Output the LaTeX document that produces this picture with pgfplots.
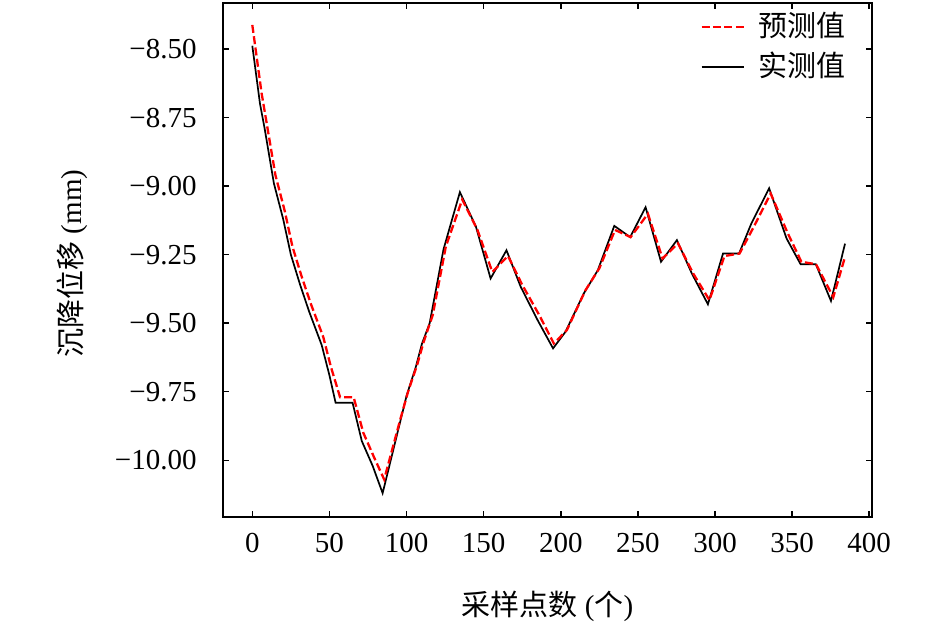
\documentclass[border=0pt]{standalone}
\usepackage{pgfplots}
\pgfplotsset{compat=1.18}
\usepackage{fontspec}
\setmainfont{Liberation Serif}
\newfontfamily\cjk{Noto Sans CJK SC}
\begin{document}
\fontsize{14.5}{17}\selectfont
\begin{tikzpicture}
\useasboundingbox (-111.5pt,-53.5pt) rectangle (361pt,258.5pt);
\begin{axis}[
  at={(0,0)}, anchor=south west,
  scale only axis,
  width=324.5pt, height=257pt,
  xmin=-19, xmax=401.8,
  ymin=-10.207, ymax=-8.332,
  xtick={0,50,...,400},
  ytick={-10,-9.75,-9.5,-9.25,-9,-8.75,-8.5},
  yticklabels={−10.00,−9.75,−9.50,−9.25,−9.00,−8.75,−8.50},
  /pgf/number format/assume math mode=true,
  tick align=inside,
  major tick length=3pt,
  tick style={black, line width=0.75pt},
  axis line style={black, line width=0.75pt},
  ticklabel style={font=\fontsize{14.5}{17}\selectfont},
  yticklabel style={inner sep=0pt, xshift=-13pt},
  xticklabel style={inner sep=0pt, yshift=-8pt},
  xlabel={{\cjk 采样点数} (\cjk 个\rmfamily)},
  ylabel={{\cjk 沉降位移} (mm)},
  label style={font=\fontsize{14.5}{17}\selectfont},
  xlabel style={at={(axis description cs:0.5,-0.173)}, anchor=center},
  ylabel style={at={(axis description cs:-0.2327,0.493)}, anchor=center},
  legend cell align=left,
  legend style={draw=none, fill=none, at={(axis description cs:0.735,0.99)}, anchor=north west,
    inner sep=0pt, row sep=1.5pt, font=\fontsize{14.5}{17}\selectfont\cjk,
    /tikz/every odd column/.append style={column sep=5pt}},
  legend image code/.code={\draw[#1] (0pt,0pt) -- (21pt,0pt);},
]
\addlegendimage{red, line width=1.15pt, dash pattern=on 4pt off 1.7pt}
\addlegendentry{预测值}
\addlegendimage{black, line width=0.85pt}
\addlegendentry{实测值}
% measured
\addplot[black, line width=0.85pt, forget plot] coordinates {
(0,-8.488) (5,-8.70) (8,-8.79) (14,-8.99) (20,-9.12) (25,-9.25) (31,-9.36)
(37,-9.46) (41,-9.52) (45,-9.58) (50,-9.69) (54,-9.79) (65,-9.79) (71,-9.93)
(78,-10.02) (84.5,-10.12) (95,-9.88) (100,-9.765) (106,-9.66) (110,-9.575)
(115,-9.50) (124,-9.23) (134.6,-9.022) (145,-9.148) (154.5,-9.337)
(164.8,-9.234) (174,-9.367) (185,-9.489) (195,-9.592) (203,-9.532)
(215,-9.391) (224,-9.307) (234.7,-9.145) (245,-9.186) (255,-9.077)
(265,-9.276) (275.3,-9.197) (285,-9.319) (295.4,-9.431) (305.2,-9.246)
(315.6,-9.246) (323.6,-9.136) (335.1,-9.008) (346.4,-9.191) (355.5,-9.285)
(365.4,-9.285) (375.2,-9.419) (384.3,-9.210)
};
% predicted
\addplot[red, line width=1.15pt, dash pattern=on 4pt off 1.7pt, forget plot] coordinates {
(0,-8.412) (6,-8.66) (9,-8.76) (15,-8.96) (21,-9.09) (26,-9.22) (32,-9.33)
(38,-9.43) (42,-9.49) (46,-9.55) (51,-9.66) (56.9,-9.77) (65.7,-9.77)
(72,-9.90) (79,-9.99) (85.5,-10.07) (96,-9.85) (101,-9.75) (107,-9.65)
(111,-9.57) (117,-9.47) (125.5,-9.22) (136.1,-9.049) (146,-9.16)
(155.6,-9.313) (165.8,-9.255) (175,-9.36) (186,-9.47) (195.5,-9.574)
(204,-9.525) (216,-9.38) (225,-9.30) (235.2,-9.16) (245.3,-9.186)
(256.5,-9.101) (266,-9.264) (276,-9.209) (286,-9.32) (296.4,-9.416)
(306.1,-9.255) (315.9,-9.246) (325,-9.15) (336.1,-9.027) (347,-9.17)
(356,-9.276) (365.5,-9.285) (376.7,-9.405) (384,-9.264)
};
\end{axis}
\end{tikzpicture}
\end{document}
